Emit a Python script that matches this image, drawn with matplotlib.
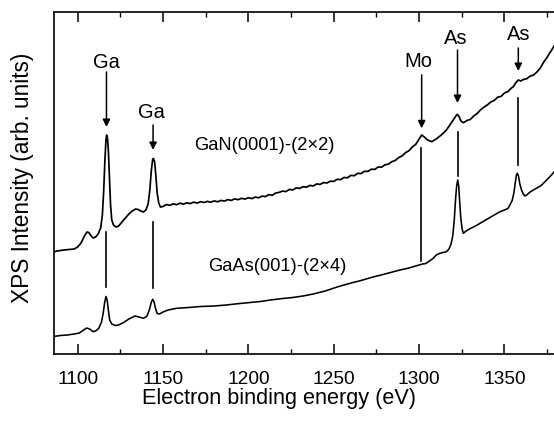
import matplotlib
matplotlib.use("Agg")
import matplotlib.pyplot as plt
from matplotlib.ticker import MultipleLocator

plt.rcParams['font.family'] = ['Liberation Sans', 'DejaVu Sans']

# ---- data (binding energy in eV, intensity in arb. units) ----
gan_energy = [1086, 1088, 1090, 1092, 1095, 1098, 1100, 1102, 1104, 1105.5, 1106.5, 1108, 1109.2, 1110.5,
              1112, 1113.5, 1114.5, 1115.3, 1116, 1116.6, 1117.0, 1117.5, 1118, 1118.6, 1119.3, 1120, 1121,
              1122.5, 1124, 1126, 1128, 1130, 1132, 1134, 1135.5, 1137, 1138.5, 1140, 1141.3, 1142.3, 1143.2,
              1144, 1144.5, 1145.1, 1145.8, 1146.6, 1147.5, 1148.5,
              1150, 1152, 1154, 1156, 1158, 1160, 1162, 1164, 1166, 1168, 1170, 1172, 1174, 1176, 1178,
              1180, 1182, 1184, 1186, 1188, 1190, 1192, 1194, 1196, 1198, 1200, 1202, 1204, 1206, 1208,
              1210, 1212, 1214, 1216, 1218, 1220, 1222, 1224, 1226, 1228, 1230, 1232, 1234, 1236, 1238,
              1240, 1242, 1244, 1246, 1248, 1250, 1252, 1254, 1256, 1258, 1260, 1262, 1264, 1266, 1268,
              1270, 1272, 1274, 1276, 1278, 1280, 1282, 1284, 1286, 1288, 1290, 1292, 1294, 1296, 1298,
              1300, 1301.5, 1303, 1305, 1307.4, 1310, 1313,
              1316, 1318, 1320, 1321.5, 1322.4, 1323.5, 1324.5,
              1326, 1328, 1330, 1332, 1334, 1336, 1338, 1340, 1342, 1344, 1346, 1348, 1350, 1352, 1354,
              1355.2, 1356.5, 1358.1, 1359.5, 1361, 1363, 1365, 1367, 1369, 1371, 1373,
              1374.7, 1376.5, 1378.4, 1379]
gan_intensity = [102, 103, 103.5, 104, 104.5, 105, 107, 111, 118, 122, 121.5, 118, 116, 117,
                 120, 126, 139, 164, 194, 214, 219, 216, 204, 179, 149, 134, 129,
                 127, 128, 132, 136, 140, 143, 145, 144.5, 143, 142, 144, 150, 164, 184,
                 195, 195.5, 192, 179, 161, 151, 147,
                 147.5, 149.5, 148.6, 150.2, 149.3, 150.8, 149.9, 151.2, 150.4, 151.9, 150.9, 152.3, 151.5, 152.6, 151.8,
                 153.1, 152.2, 153.6, 152.9, 154.4, 153.6, 155.1, 154.3, 155.7, 154.9, 156.3, 155.4, 156.9, 156.2, 157.9,
                 157.4, 159.4, 158.7, 161.0, 161.6, 162.9, 162.4, 164.6, 164.0, 166.1, 165.6, 167.3, 166.8, 168.6, 168.0,
                 170.1, 169.6, 171.4, 171.0, 172.8, 172.6, 174.7, 174.4, 176.5, 176.2, 178.6, 178.3, 180.6, 180.5, 182.7,
                 182.6, 184.8, 184.6, 187.0, 186.8, 189.2, 189.8, 192.3, 193.5, 196.4, 198.0, 201.3, 203.2, 207.0, 209.6,
                 215, 219, 217, 214, 212.3, 215, 219,
                 224, 229, 234, 238, 239.7, 237, 233,
                 231.3, 233.5, 234.6, 238.0, 240.5, 244.2, 246.9, 249.1, 252.0, 253.6, 256.8, 257.6, 261.0, 262.4, 265.9,
                 267.3, 271, 274, 273, 274.5, 275.3, 277.8, 279.0, 282, 286, 292,
                 296, 301, 306, 308]

gaas_energy = [1086, 1090, 1094, 1098, 1101, 1103.5, 1105.3, 1107, 1109.2, 1111, 1112.5, 1114, 1115,
               1115.8, 1116.6, 1117.3, 1118, 1118.8, 1120, 1122, 1124, 1127, 1130, 1133.6, 1136, 1138.5,
               1140.5, 1142, 1143.2, 1144, 1144.8, 1145.7, 1146.6, 1148, 1150, 1153, 1158, 1165, 1172,
               1180, 1187, 1195, 1201, 1207, 1213, 1220, 1226, 1232, 1238, 1245, 1252, 1259.5, 1266,
               1273, 1280, 1288.8, 1294, 1298, 1300, 1302, 1304, 1306, 1308.3, 1310, 1312.2, 1314, 1316,
               1317.5, 1318.7, 1319.7, 1320.6, 1321.4, 1322, 1322.6, 1323.2, 1323.8, 1324.4, 1325.2,
               1325.9, 1327.5, 1330, 1333, 1335.7, 1339, 1343, 1347.4, 1350, 1352, 1353.2, 1354.5,
               1355.5, 1356.3, 1357.0, 1357.5, 1358.2, 1359, 1360, 1361, 1362, 1363, 1365, 1366.9, 1369,
               1371.5, 1374.7, 1377, 1379]
gaas_intensity = [17.5, 18.5, 19, 20, 21, 24, 26, 25, 22.3, 23.5, 26, 32, 41,
                  51, 57.5, 54, 44, 34, 30, 28.5, 29, 31.5, 35, 38, 37, 35.7,
                  37.5, 44, 52, 54.7, 52, 45, 40.5, 40, 42, 44, 45.7, 46.5, 47.5,
                  48, 49, 50.5, 51.5, 52.5, 54, 55.5, 56.5, 58, 60, 63, 67, 70.7, 73.5,
                  77, 80, 84, 86, 88, 89, 90, 90.5, 93, 95.7, 99, 100.7, 101.5, 102.3,
                  105, 110, 118, 134, 156, 168, 174, 168, 151, 136, 125,
                  120.7, 123, 125.5, 128, 130.7, 134, 138, 142.3, 144, 145.5, 149, 153.5,
                  161, 171, 179, 180.7, 178, 170, 164, 160, 158, 159, 162, 164, 166,
                  168.5, 174, 178, 182]

# peak annotations: label, energy, label height, arrow start, arrow tip
peak_labels = ["Ga", "Ga", "Mo", "As", "As"]
peak_energy = [1116.9, 1144.2, 1301.5, 1322.5, 1358.1]
label_x = [1116.9, 1143.2, 1299.5, 1321.6, 1358.1]
label_y = [292, 241, 292.3, 316, 319.7]
arrow_top = [282, 229, 279, 304, 306]
arrow_tip = [227, 204, 225.7, 251, 283]
# connecting vertical lines between spectra
link_x = [1116.8, 1144.3, 1300.9, 1322.5, 1358.1]
link_top = [122.3, 132.3, 206, 222, 255.7]
link_bottom = [66.7, 65.7, 93.3, 178, 189]

sample_names = ["GaN(0001)-(2\u00d72)", "GaAs(001)-(2\u00d74)"]
sample_x = [1209.2, 1217.1]
sample_y = [209, 87.3]

xticks = [1100, 1150, 1200, 1250, 1300, 1350]

fig = plt.figure(figsize=(5.54, 4.22), dpi=100)
ax = fig.add_axes([53.7 / 554, 68 / 422, 500.3 / 554, 342 / 422])

ax.plot(gan_energy, gan_intensity, color='black', lw=1.25)
ax.plot(gaas_energy, gaas_intensity, color='black', lw=1.15)

for lab, px, lx, ly, at, tip in zip(peak_labels, peak_energy, label_x, label_y, arrow_top, arrow_tip):
    ax.text(lx, ly, lab, ha='center', va='center', fontsize=14.5)
    ax.annotate('', xy=(px, tip), xytext=(px, at),
                arrowprops=dict(arrowstyle='-|>', color='black', lw=1.1,
                                mutation_scale=11, shrinkA=0, shrinkB=0))

for lx, lt, lb in zip(link_x, link_top, link_bottom):
    ax.plot([lx, lx], [lb, lt], color='black', lw=1.2)

for name, sx, sy in zip(sample_names, sample_x, sample_y):
    ax.text(sx, sy, name, ha='center', va='center', fontsize=13.2)

ax.set_xlim(1086, 1379)
ax.set_ylim(0, 342)
ax.set_xticks(xticks)
ax.xaxis.set_minor_locator(MultipleLocator(25))
ax.set_yticks([])
ax.tick_params(axis='x', which='both', direction='in', top=True, bottom=True,
               labelsize=13.8, pad=12.5)
ax.tick_params(axis='x', which='major', length=7, width=1.1)
ax.tick_params(axis='x', which='minor', length=3.5, width=1.0)
ax.spines['right'].set_visible(False)
for s in ['left', 'top', 'bottom']:
    ax.spines[s].set_linewidth(1.2)

ax.set_xlabel("Electron binding energy (eV)", fontsize=15.6)
ax.xaxis.set_label_coords(0.45, -0.098)
ax.set_ylabel("XPS Intensity (arb. units)", fontsize=16.3)
ax.yaxis.set_label_coords(-0.039, 0.515)

fig.savefig("out.png", dpi=100)
